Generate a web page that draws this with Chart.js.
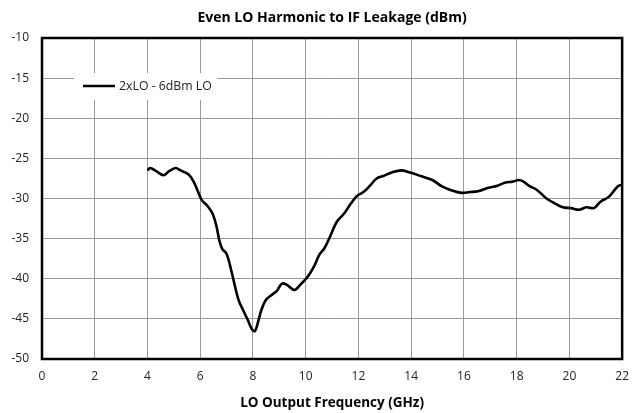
<!DOCTYPE html>
<html>
<head>
<meta charset="utf-8">
<script src="https://cdn.jsdelivr.net/npm/chart.js@4"></script>
<style>
  html, body { margin: 0; padding: 0; background: #fff; }
  #wrap { width: 639px; height: 413px; }
</style>
</head>
<body>
<div id="wrap"><canvas id="leakChart"></canvas></div>
<script>
/* --------------- Data --------------------------------------- */
const seriesName = "2xLO - 6dBm LO";
const freqGHz = [
  4.0, 4.1, 4.33, 4.61, 4.82, 5.07, 5.25, 5.56, 5.75, 5.91,
  6.06, 6.27, 6.47, 6.62, 6.73, 6.84, 7.0, 7.18, 7.3, 7.46,
  7.61, 7.8, 7.96, 8.08, 8.2, 8.33, 8.5, 8.72, 8.91, 9.1,
  9.3, 9.57, 9.81, 10.09, 10.31, 10.52, 10.71, 10.93, 11.18, 11.45,
  11.72, 11.94, 12.19, 12.44, 12.69, 12.94, 13.31, 13.65, 13.99, 14.36,
  14.8, 15.17, 15.54, 15.91, 16.22, 16.53, 16.9, 17.27, 17.58, 17.85,
  18.08, 18.26, 18.51, 18.76, 19.13, 19.44, 19.75, 20.06, 20.37, 20.64,
  20.93, 21.18, 21.49, 21.83, 21.97
];
const leakDbm = [
  -26.5, -26.2, -26.6, -27.1, -26.6, -26.2, -26.5, -27.0, -27.9, -29.1,
  -30.2, -30.9, -31.9, -33.5, -35.3, -36.3, -36.9, -39.0, -40.7, -42.7,
  -43.8, -45.1, -46.3, -46.5, -45.3, -43.8, -42.6, -42.0, -41.5, -40.6,
  -40.8, -41.4, -40.7, -39.7, -38.5, -37.0, -36.2, -34.7, -32.9, -31.9,
  -30.6, -29.7, -29.2, -28.4, -27.5, -27.2, -26.7, -26.5, -26.8, -27.2,
  -27.7, -28.5, -29.0, -29.3, -29.2, -29.1, -28.7, -28.4, -28.0, -27.9,
  -27.7, -27.9, -28.5, -28.9, -30.0, -30.6, -31.1, -31.2, -31.4, -31.1,
  -31.2, -30.4, -29.8, -28.5, -28.3
];
const xTicks = { min: 0, max: 22, step: 2 };
const yTicks = { min: -50, max: -10, step: 5 };

const FONT = "'Open Sans', 'Liberation Sans', sans-serif";

/* --------------- Plot frame + legend box --------------------- */
const framePlugin = {
  id: "frame",
  afterDraw(chart) {
    const { ctx, chartArea: a } = chart;
    ctx.save();
    // legend box inside the plot
    const lx = a.left + 32, ly = a.top + 35;
    ctx.fillStyle = "#fff";
    ctx.fillRect(lx, ly, 143, 27);
    ctx.strokeStyle = "#000";
    ctx.lineWidth = 2.5;
    ctx.beginPath();
    ctx.moveTo(lx + 9, ly + 13);
    ctx.lineTo(lx + 41, ly + 13);
    ctx.stroke();
    ctx.fillStyle = "#222";
    ctx.font = "12.3px " + FONT;
    ctx.textBaseline = "middle";
    ctx.fillText(chart.data.datasets[0].label, lx + 45, ly + 13.5);
    // thick border round the plot
    ctx.lineWidth = 2.5;
    ctx.strokeStyle = "#000";
    ctx.strokeRect(a.left, a.top, a.right - a.left, a.bottom - a.top);
    ctx.restore();
  }
};

const points = freqGHz.map((f, i) => ({ x: f, y: leakDbm[i] }));

new Chart(document.getElementById("leakChart"), {
  type: "line",
  plugins: [framePlugin],
  data: {
    datasets: [{
      label: seriesName,
      data: points,
      borderColor: "#000",
      borderWidth: 2.6,
      pointRadius: 0,
      tension: 0.35,
      fill: false
    }]
  },
  options: {
    responsive: true,
    maintainAspectRatio: false,
    animation: false,
    layout: { padding: { left: 0, right: 9, top: 0, bottom: 0 } },
    plugins: {
      legend: { display: false },
      tooltip: { enabled: false },
      title: {
        display: true,
        fullSize: false,
        text: "Even LO Harmonic to IF Leakage (dBm)",
        color: "#000",
        font: { family: FONT, size: 14, weight: "bold", lineHeight: 1.2 },
        padding: { top: 10, bottom: 11.2 }
      }
    },
    scales: {
      x: {
        type: "linear",
        min: xTicks.min,
        max: xTicks.max,
        afterFit: (s) => { s.height = 54; },
        border: { display: false },
        grid: { color: "#999", lineWidth: 1, drawTicks: false },
        ticks: {
          stepSize: xTicks.step,
          padding: 10,
          color: "#222",
          font: { family: FONT, size: 12 },
          maxRotation: 0
        },
        title: {
          display: true,
          text: "LO Output Frequency (GHz)",
          color: "#000",
          font: { family: FONT, size: 13.5, weight: "bold", lineHeight: 1.2 },
          padding: { top: 0, bottom: 2 }
        }
      },
      y: {
        min: yTicks.min,
        max: yTicks.max,
        afterFit: (s) => { s.width = 42; },
        border: { display: false },
        grid: { color: "#999", lineWidth: 1, drawTicks: false },
        ticks: {
          stepSize: yTicks.step,
          padding: 13,
          color: "#222",
          font: { family: FONT, size: 12 }
        }
      }
    }
  }
});
</script>
</body>
</html>
